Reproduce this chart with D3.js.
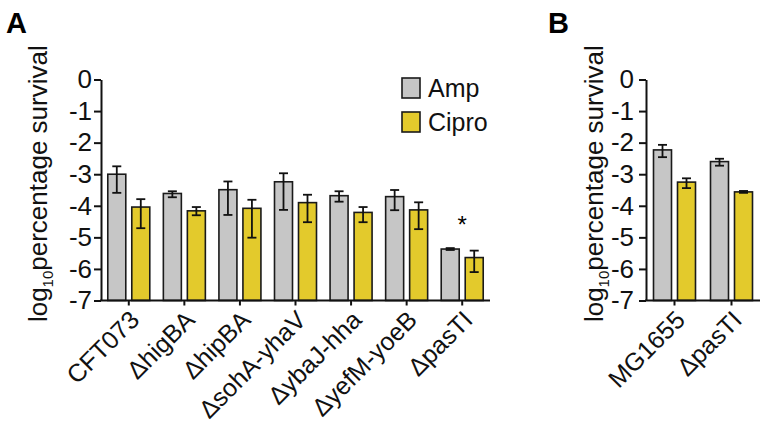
<!DOCTYPE html>
<html>
<head>
<meta charset="utf-8">
<script src="https://cdn.jsdelivr.net/npm/d3@7"></script>
<style>
  body { margin: 0; background: #fff; }
  svg { font-family: "Liberation Sans", Arial, sans-serif; }
  .axis path, .axis line { stroke: #111; stroke-width: 2; }
  .axis text { font-size: 26px; fill: #111; }
</style>
</head>
<body>
<svg id="chart" width="769" height="431"></svg>
<script>
// log10 percentage survival

var series = ["Amp", "Cipro"];
var colors = ["#c6c6c6", "#e3ca2c"];
var yTicks = [0, -1, -2, -3, -4, -5, -6, -7];

// Panel A
var strainsA = ["CFT073", "ΔhigBA", "ΔhipBA", "ΔsohA-yhaV", "ΔybaJ-hha", "ΔyefM-yoeB", "ΔpasTI"];
var ampA     = [-3.00, -3.61, -3.49, -3.24, -3.68, -3.71, -5.37];
var ampHiA   = [-2.75, -3.54, -3.23, -2.97, -3.54, -3.50, -5.34];
var ampLoA   = [-3.59, -3.73, -4.29, -4.13, -3.87, -4.14, -5.40];
var ciproA   = [-4.04, -4.16, -4.08, -3.90, -4.21, -4.13, -5.64];
var ciproHiA = [-3.79, -4.04, -3.81, -3.65, -4.04, -3.89, -5.42];
var ciproLoA = [-4.71, -4.30, -5.01, -4.52, -4.52, -4.74, -6.10];
var starA    = ["", "", "", "", "", "", "*"];

// Panel B
var strainsB = ["MG1655", "ΔpasTI"];
var ampB     = [-2.23, -2.60];
var ampHiB   = [-2.07, -2.51];
var ampLoB   = [-2.46, -2.73];
var ciproB   = [-3.25, -3.56];
var ciproHiB = [-3.13, -3.53];
var ciproLoB = [-3.44, -3.59];

var svg = d3.select("#chart");

var y = d3.scaleLinear().domain([-7, 0]).range([300.5, 79.5]);

// sub-band for the two bars in a group, relative to the group centre
var x1 = d3.scaleBand().domain(series).range([-21, 21]).paddingInner(0.25);

var rows = function (strains, amp, ampHi, ampLo, cipro, ciproHi, ciproLo) {
  return strains.map(function (s, i) {
    return {
      strain: s,
      bars: [
        { key: "Amp", v: amp[i], hi: ampHi[i], lo: ampLo[i] },
        { key: "Cipro", v: cipro[i], hi: ciproHi[i], lo: ciproLo[i] }
      ]
    };
  });
};

var drawPanel = function (opts) {
  var data = opts.data;
  var x0 = d3.scaleBand().domain(data.map(function (d) { return d.strain; }))
    .range([opts.left, opts.right]);
  var g = svg.append("g");

  // bars
  var groups = g.selectAll("g.grp").data(data).enter().append("g")
    .attr("class", "grp")
    .attr("transform", function (d) {
      return "translate(" + (x0(d.strain) + x0.bandwidth() / 2) + ",0)";
    });

  groups.selectAll("rect").data(function (d) { return d.bars; }).enter().append("rect")
    .attr("x", function (b) { return x1(b.key); })
    .attr("width", x1.bandwidth())
    .attr("y", function (b) { return y(b.v); })
    .attr("height", function (b) { return y(-7) - y(b.v); })
    .attr("fill", function (b) { return colors[series.indexOf(b.key)]; })
    .attr("stroke", "#1a1a1a")
    .attr("stroke-width", 1.6);

  // error bars
  var err = groups.selectAll("g.err").data(function (d) { return d.bars; }).enter().append("g")
    .attr("class", "err")
    .attr("stroke", "#111")
    .attr("stroke-width", 1.8);
  var cx = function (b) { return x1(b.key) + x1.bandwidth() / 2; };
  err.append("line")
    .attr("x1", cx).attr("x2", cx)
    .attr("y1", function (b) { return y(b.hi); })
    .attr("y2", function (b) { return y(b.lo); });
  err.append("line")
    .attr("x1", function (b) { return cx(b) - 4.5; })
    .attr("x2", function (b) { return cx(b) + 4.5; })
    .attr("y1", function (b) { return y(b.hi); })
    .attr("y2", function (b) { return y(b.hi); });
  err.append("line")
    .attr("x1", function (b) { return cx(b) - 4.5; })
    .attr("x2", function (b) { return cx(b) + 4.5; })
    .attr("y1", function (b) { return y(b.lo); })
    .attr("y2", function (b) { return y(b.lo); });

  // y axis
  g.append("g").attr("class", "axis")
    .attr("transform", "translate(" + opts.left + ",0)")
    .call(d3.axisLeft(y).tickValues(yTicks).tickSize(7).tickSizeOuter(0).tickPadding(opts.pad)
      .tickFormat(function (d) { return String(d); }));

  // x axis
  var xa = g.append("g").attr("class", "axis")
    .attr("transform", "translate(0," + y(-7) + ")")
    .call(d3.axisBottom(x0).tickSize(5).tickSizeOuter(0).tickFormat(""));
  xa.select(".domain").attr("d", "M" + (opts.left - 1) + ",0H" + opts.right);

  // rotated strain labels
  g.selectAll("text.strain").data(data).enter().append("text")
    .attr("class", "strain")
    .attr("text-anchor", "end")
    .attr("font-size", 25)
    .attr("fill", "#111")
    .attr("transform", function (d) {
      return "translate(" + (x0(d.strain) + x0.bandwidth() / 2 + 12) + "," + (y(-7) + 21) + ") rotate(-45)";
    })
    .text(function (d) { return d.strain; });

  // significance marks
  if (opts.stars) {
    g.selectAll("text.star").data(data).enter().append("text")
      .attr("class", "star")
      .attr("x", function (d) { return x0(d.strain) + x0.bandwidth() / 2; })
      .attr("y", y(-4.85))
      .attr("text-anchor", "middle")
      .attr("font-size", 24)
      .text(function (d, i) { return opts.stars[i]; });
  }

  // y axis title
  var yt = g.append("text")
    .attr("text-anchor", "middle")
    .attr("font-size", 26)
    .attr("fill", "#111")
    .attr("transform", "translate(" + opts.titleX + "," + y(-3.3) + ") rotate(-90)");
  yt.append("tspan").text("log");
  yt.append("tspan").attr("font-size", 15).attr("dy", 6).text("10");
  yt.append("tspan").attr("dy", -6).text("percentage survival");

  // panel letter
  svg.append("text")
    .attr("x", opts.letterX).attr("y", 33)
    .attr("font-size", 29).attr("font-weight", "bold")
    .text(opts.letter);
};

drawPanel({
  data: rows(strainsA, ampA, ampHiA, ampLoA, ciproA, ciproHiA, ciproLoA),
  left: 101, right: 490, titleX: 47, pad: 2, letter: "A", letterX: 6, stars: starA
});

drawPanel({
  data: rows(strainsB, ampB, ampHiB, ampLoB, ciproB, ciproHiB, ciproLoB),
  left: 646, right: 760, titleX: 603, pad: 5, letter: "B", letterX: 548
});

// legend
var legend = svg.append("g").attr("transform", "translate(402,78)");
series.forEach(function (s, i) {
  legend.append("rect")
    .attr("x", 0).attr("y", i * 34)
    .attr("width", 18).attr("height", 20)
    .attr("fill", colors[i])
    .attr("stroke", "#1a1a1a").attr("stroke-width", 1.6);
  legend.append("text")
    .attr("x", 26).attr("y", i * 34 + 19)
    .attr("font-size", 25).attr("fill", "#111")
    .text(s);
});
</script>
</body>
</html>
